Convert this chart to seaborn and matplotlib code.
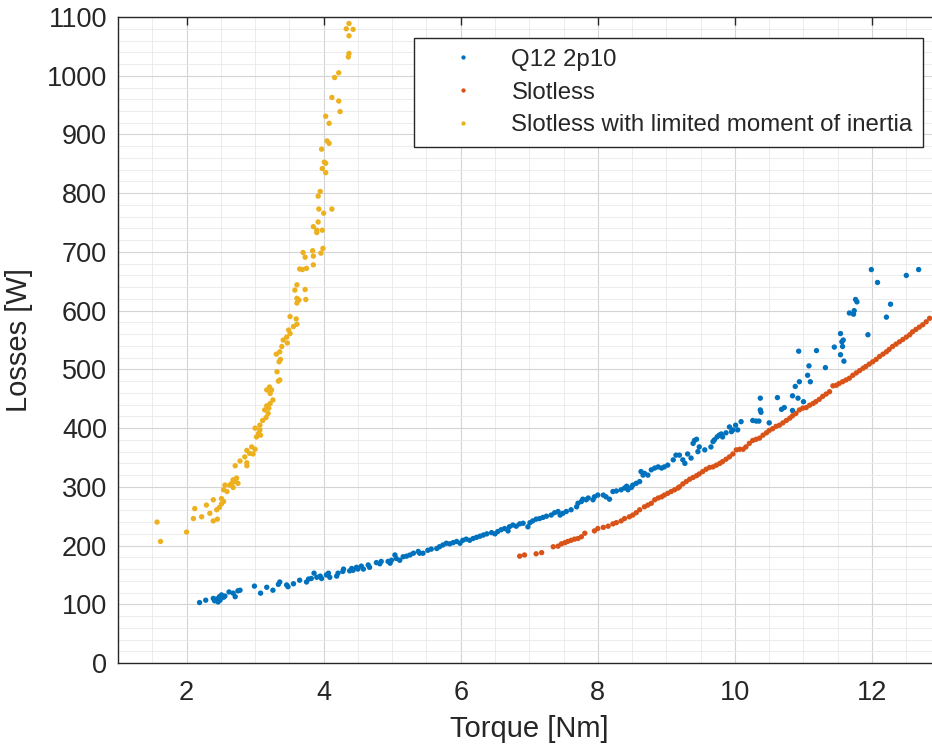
import numpy as np
import pandas as pd
import matplotlib
matplotlib.use("Agg")
import matplotlib.pyplot as plt
from matplotlib.ticker import MultipleLocator
import seaborn as sns

# ---------------- data ----------------
q12_torque = [2.19, 2.28, 2.39, 2.41, 2.44, 2.48, 2.51, 2.54, 2.46, 2.49, 2.56, 2.62, 2.68, 2.71,
              2.75, 2.78, 2.99, 3.08, 3.17, 3.26, 3.34, 3.36, 3.46, 3.48, 3.56, 3.65, 3.75, 3.78,
              3.82, 3.86, 3.90, 3.95, 3.97, 4.04, 4.09, 4.07, 4.19, 4.21, 4.28, 4.29, 4.38, 4.41,
              4.43, 4.48, 4.50, 4.55, 4.58, 4.65, 4.67, 4.77, 4.82, 4.84, 4.94, 4.97, 4.99, 5.04,
              5.06, 5.11, 5.16, 5.21, 5.26, 5.31, 5.38, 5.40, 5.45, 5.52, 5.57, 5.65,
              5.69, 5.74, 5.79, 5.84, 5.89, 5.94, 5.99, 6.03, 6.08, 6.13, 6.18, 6.23, 6.28, 6.33,
              6.38, 6.45, 6.50, 6.54, 6.59, 6.64, 6.69, 6.71, 6.76, 6.81, 6.86, 6.91, 6.98, 7.01,
              7.05, 7.10, 7.15, 7.20, 7.25, 7.32, 7.37, 7.42, 7.45, 7.49, 7.54, 7.61, 7.69, 7.71,
              7.76, 7.78, 7.83, 7.86, 7.93, 7.95, 8.00, 8.08, 8.12, 8.17, 8.22, 8.27, 8.34, 8.39,
              8.42, 8.44, 8.49, 8.51, 8.56, 8.61, 8.63, 8.66, 8.68, 8.73, 8.78, 8.83, 8.88, 8.93,
              8.97, 9.02, 9.10, 9.14,
              9.19, 9.24, 9.27, 9.31, 9.36, 9.39, 9.41, 9.44, 9.46, 9.48, 9.56, 9.65, 9.68, 9.70,
              9.74, 9.77, 9.80, 9.82, 9.87, 9.92, 9.95, 9.97, 10.01, 10.04, 10.09, 10.26, 10.31,
              10.35, 10.37, 10.37, 10.38, 10.50, 10.62, 10.68, 10.72, 10.84, 10.84, 10.88, 10.92,
              10.94, 10.93, 11.00, 11.06, 11.08, 11.10, 11.19, 11.32, 11.45, 11.54, 11.56, 11.57,
              11.58, 11.54, 11.59, 11.67, 11.73, 11.74, 11.76, 11.78, 11.94, 11.99, 12.08, 12.21,
              12.27, 12.50, 12.68]
q12_losses = [103, 107, 110, 106, 109, 113, 116, 112, 104, 107, 114, 121, 119, 113,
              123, 124, 131, 119, 129, 124, 134, 138, 133, 130, 135, 141, 138, 143,
              144, 153, 146, 148, 144, 150, 146, 153, 148, 153, 156, 160, 157, 161,
              158, 163, 160, 165, 160, 167, 163, 171, 169, 173, 173, 170, 175, 184,
              178, 175, 181, 182, 184, 187, 190, 187, 187, 192, 194, 195,
              198, 201, 204, 203, 205, 207, 204, 209, 211, 209, 212, 214, 216, 218,
              220, 222, 220, 224, 227, 229, 225, 232, 235, 233, 237, 238, 232, 239,
              242, 245, 246, 248, 250, 252, 256, 258, 252, 255, 258, 261, 266, 272,
              275, 279, 278, 281, 278, 283, 286, 286, 283, 279, 292, 293, 295, 298,
              301, 295, 299, 303, 306, 309, 326, 320, 323, 320, 329, 332, 334, 332,
              334, 337, 346, 354,
              354, 346, 340, 356, 349, 374, 379, 381, 360, 368, 363, 368, 377, 380,
              385, 388, 390, 385, 392, 402, 394, 397, 405, 397, 411, 413, 412,
              412, 451, 431, 427, 409, 452, 432, 435, 455, 430, 471, 451,
              479, 531, 445, 490, 506, 479, 532, 503, 538, 561, 547, 539,
              550, 525, 514, 596, 594, 600, 619, 615, 559, 670, 648, 589,
              611, 660, 670]

slotless_torque = [6.86, 6.93, 7.10, 7.18, 7.35, 7.42, 7.47, 7.52, 7.56, 7.61, 7.66, 7.71,
                   7.76, 7.81, 7.95, 8.00, 8.08, 8.15, 8.22, 8.27, 8.34, 8.39, 8.46, 8.51,
                   8.56, 8.61, 8.68, 8.73, 8.78, 8.83, 8.88, 8.93, 8.97, 9.02, 9.07, 9.12,
                   9.17,
                   9.19, 9.24, 9.29, 9.34, 9.39, 9.44, 9.48, 9.53, 9.58, 9.63, 9.68, 9.73,
                   9.78, 9.82, 9.87, 9.92, 9.97, 10.02, 10.07, 10.12, 10.16, 10.21, 10.26,
                   10.31, 10.36, 10.41, 10.46, 10.50, 10.55, 10.60, 10.65, 10.70, 10.75,
                   10.80, 10.84, 10.89, 10.94, 10.99, 11.04, 11.09, 11.14, 11.18, 11.23,
                   11.28, 11.33, 11.38, 11.43, 11.48, 11.52, 11.57, 11.62, 11.67, 11.72,
                   11.77, 11.82, 11.87, 11.91, 11.96, 12.01, 12.06, 12.11, 12.16, 12.21,
                   12.25, 12.30, 12.35, 12.40, 12.45, 12.50, 12.55, 12.59, 12.64, 12.69,
                   12.74, 12.79, 12.84]
slotless_losses = [182, 184, 186, 188, 198, 199, 203, 205, 207, 209, 211, 212,
                   215, 221, 225, 229, 231, 233, 237, 239, 242, 246, 249, 252,
                   256, 261, 266, 269, 272, 278, 281, 283, 286, 289, 292, 295,
                   298,
                   300, 305, 309, 313, 316, 319, 322, 326, 330, 333, 334, 337,
                   340, 343, 347, 351, 356, 363, 364, 364, 368, 374, 379,
                   381, 383, 388, 392, 396, 399, 403, 405, 409, 413,
                   417, 421, 425, 431, 434, 435, 439, 442, 445, 449,
                   454, 458, 462, 472, 473, 476, 479, 482, 485, 490,
                   494, 498, 502, 505, 509, 513, 517, 522, 526, 530,
                   534, 539, 543, 547, 551, 555, 559, 564, 568, 572,
                   576, 581, 587]

limited_torque = [4.37, 4.33, 4.43, 4.37, 4.37, 4.36, 4.22, 4.16, 4.12, 4.22, 4.24, 4.03,
                  4.08, 4.05, 4.08, 3.97, 4.01, 4.03, 3.98, 4.03, 3.95, 3.92, 3.93, 4.12,
                  4.00, 3.92, 3.85, 3.90, 3.98, 3.90, 3.70, 3.84, 3.99, 3.96, 3.73, 3.85,
                  3.85, 3.75, 3.69, 3.65, 3.61, 3.73, 3.58, 3.61, 3.64, 3.74, 3.61, 3.51,
                  3.60, 3.61, 3.56, 3.49, 3.51, 3.46, 3.41, 3.47, 3.39, 3.36, 3.31, 3.37,
                  3.35, 3.32, 3.36, 3.34, 3.21, 3.24, 3.17, 3.22, 3.26, 3.22, 3.17, 3.20,
                  3.14, 3.19, 3.16, 3.11, 3.07, 3.00, 3.07, 3.05, 3.08, 3.02, 2.95, 3.00,
                  2.88, 2.92, 2.97, 2.85, 2.78, 2.88, 2.88, 2.71, 2.73, 2.68, 2.66, 2.71,
                  2.75, 2.63, 2.68, 2.56, 2.54, 2.59, 2.51, 2.54, 2.51, 2.39, 2.29, 2.12,
                  2.48, 2.44, 2.34, 2.22, 2.10, 2.39, 2.45, 1.57, 1.62, 2.00]
limited_losses = [1089, 1080, 1079, 1068, 1038, 1032, 1005, 997, 963, 957, 939, 931,
                  919, 889, 885, 875, 853, 851, 842, 835, 803, 795, 773, 773,
                  766, 751, 743, 737, 737, 733, 699, 702, 706, 698, 691, 693,
                  678, 672, 670, 671, 644, 636, 635, 621, 618, 619, 613, 590,
                  586, 577, 573, 567, 561, 555, 550, 545, 539, 530, 526, 517,
                  513, 496, 482, 480, 470, 465, 465, 459, 448, 442, 438, 434,
                  431, 425, 418, 413, 405, 400, 397, 391, 388, 385, 368, 364,
                  362, 357, 356, 351, 344, 341, 336, 336, 315, 312, 306, 309,
                  306, 303, 299, 303, 295, 292, 280, 275, 271, 278, 269, 263,
                  265, 261, 255, 249, 246, 242, 245, 240, 207, 223]

series_names = ["Q12 2p10", "Slotless", "Slotless with limited moment of inertia"]
series_colors = ["#0072BD", "#D95319", "#EDB120"]

x_ticks = [2, 4, 6, 8, 10, 12]
y_ticks = list(range(0, 1101, 100))

# ---------------- build long table ----------------
df = pd.concat([
    pd.DataFrame({"Torque": q12_torque, "Losses": q12_losses, "Series": series_names[0]}),
    pd.DataFrame({"Torque": slotless_torque, "Losses": slotless_losses, "Series": series_names[1]}),
    pd.DataFrame({"Torque": limited_torque, "Losses": limited_losses, "Series": series_names[2]}),
], ignore_index=True)

# ---------------- figure ----------------
sns.set_style("white")
plt.rcParams["font.family"] = ["Liberation Sans", "DejaVu Sans"]

fig = plt.figure(figsize=(9.32, 7.47), dpi=100)
fig.patch.set_facecolor("white")
ax = fig.add_axes([0.1266, 0.1124, 0.8826, 0.8648])

sns.scatterplot(data=df, x="Torque", y="Losses", hue="Series",
                hue_order=series_names, palette=series_colors,
                s=15, linewidth=0, edgecolor="none", ax=ax, zorder=3)

ax.set_xlim(1, 13)
ax.set_ylim(0, 1100)
ax.set_xticks(x_ticks)
ax.set_yticks(y_ticks)
ax.xaxis.set_minor_locator(MultipleLocator(0.5))
ax.yaxis.set_minor_locator(MultipleLocator(20))

ax.set_axisbelow(True)
ax.grid(which="major", color="#d4d4d4", linewidth=0.8)
ax.grid(which="minor", color="#e9e9e9", linewidth=0.6)

for sp in ax.spines.values():
    sp.set_color("#262626")
    sp.set_linewidth(1.0)

ax.tick_params(which="major", direction="in", top=True, right=True, length=6,
               width=1.0, color="#262626", labelsize=19.5, labelcolor="#262626")
ax.tick_params(axis="x", which="major", pad=12)
ax.tick_params(axis="y", which="major", pad=8)
ax.tick_params(which="minor", length=0)

ax.set_xlabel("Torque [Nm]", fontsize=21, color="#262626", labelpad=7)
ax.set_ylabel("Losses [W]", fontsize=21, color="#262626", labelpad=10)

leg = ax.legend(loc="upper left", bbox_to_anchor=(0.360, 0.9675), borderaxespad=0,
                fontsize=17.3, frameon=True, fancybox=False, framealpha=1,
                edgecolor="#262626", markerscale=0.8, handlelength=3.2,
                handletextpad=0.4, labelspacing=0.45, borderpad=0.45, title=None)
leg.get_frame().set_linewidth(1.0)
for t in leg.get_texts():
    t.set_color("#262626")

fig.savefig("out.png", dpi=100, facecolor="white")
